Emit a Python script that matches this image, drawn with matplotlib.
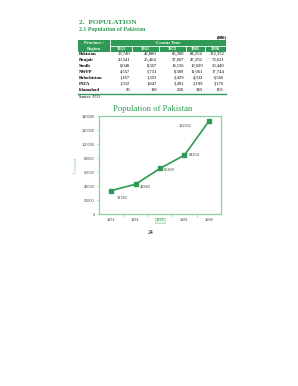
import matplotlib
matplotlib.use("Agg")
from matplotlib import pyplot as plt
from matplotlib.patches import Rectangle

# table data (thousands)
regions = ["Pakistan", "Punjab", "Sindh", "NWFP", "Balochistan", "FATA", "Islamabad"]
years = ["1951", "1961", "1972", "1981", "1998"]
table_values = [
    ["33,740", "42,880", "65,309", "84,254", "132,352"],
    ["20,541", "25,464", "37,607", "47,292", "73,621"],
    ["6,048", "8,367", "14,156", "19,029", "30,440"],
    ["4,557", "5,731", "8,389", "11,061", "17,744"],
    ["1,167", "1,353", "2,429", "4,332", "6,566"],
    ["1,332", "1,847", "2,491", "2,199", "3,176"],
    ["96", "118", "238", "340", "805"],
]
# chart data
population = [33740, 42880, 65309, 84254, 132352]

W, H = 298, 386
green = "#2e9a55"
light_green = "#8ccfa6"
serif = ["Liberation Serif", "DejaVu Serif"]
sans = ["Liberation Sans", "DejaVu Sans"]


def fx(x):
    return x / W


def fy(y):
    return 1 - y / H


fig = plt.figure(figsize=(W / 100, H / 100), dpi=100)
fig.patch.set_facecolor("white")

# headings
fig.text(fx(79), fy(22), "2.  POPULATION", family=serif, fontsize=5.2,
         weight="bold", color=green, va="center")
fig.text(fx(79), fy(30), "2.1 Population of Pakistan", family=serif, fontsize=4.2,
         weight="bold", color=green, va="center")
fig.text(fx(227), fy(37), "(000)", family=serif, fontsize=3.4, weight="bold",
         ha="right", va="center")

# table header
col_edges = [78, 110, 132, 159, 186, 205, 226]
top, mid, bot = 40, 45.5, 52
fig.patches.append(Rectangle((fx(78), fy(bot)), fx(226 - 78), (bot - top) / H,
                             transform=fig.transFigure, facecolor=green,
                             edgecolor="none"))
fig.add_artist(plt.Line2D([fx(110), fx(110)], [fy(top), fy(bot)], color="white", lw=0.6))
fig.add_artist(plt.Line2D([fx(110), fx(226)], [fy(mid), fy(mid)], color="white", lw=0.6))
for e in col_edges[2:-1]:
    fig.add_artist(plt.Line2D([fx(e), fx(e)], [fy(mid), fy(bot)], color="white", lw=0.6))

fig.text(fx(94), fy(42.5), "Province /", family=serif, fontsize=3.3, weight="bold",
         color="white", ha="center", va="center")
fig.text(fx(94), fy(48.8), "Region", family=serif, fontsize=3.3, weight="bold",
         color="white", ha="center", va="center")
fig.text(fx(168), fy(42.8), "Census Year", family=serif, fontsize=3.3, weight="bold",
         color="white", ha="center", va="center")
for i, yr in enumerate(years):
    cx = (col_edges[i + 1] + col_edges[i + 2]) / 2
    fig.text(fx(cx), fy(48.8), yr, family=serif, fontsize=3.3, weight="bold",
             color="white", ha="center", va="center")

# table body
row_y0, row_h = 54.3, 5.9
for r, reg in enumerate(regions):
    y = row_y0 + r * row_h
    fig.text(fx(79), fy(y), reg, family=serif, fontsize=3.3, weight="bold",
             va="center")
    for c, v in enumerate(table_values[r]):
        fig.text(fx(col_edges[c + 2] - 2), fy(y), v, family=serif, fontsize=3.3,
                 ha="right", va="center")
fig.add_artist(plt.Line2D([fx(78), fx(226)], [fy(93.7), fy(93.7)], color=green, lw=1.0))
fig.text(fx(79), fy(97.5), "Source: PCO", family=serif, fontsize=3.0, va="center")

# chart
fig.text(fx(153), fy(109), "Population of Pakistan", family=serif, fontsize=6.2,
         color=green, ha="center", va="center")
ax = fig.add_axes([fx(99), fy(214.3), fx(221 - 99), (214.3 - 116) / H])
xs = list(range(len(years)))
ax.plot(xs, population, color=green, lw=1.2, marker="s", markersize=2.2,
        markeredgecolor=green, markerfacecolor=green)
ax.set_xlim(-0.5, len(years) - 0.5)
ax.set_ylim(0, 140000)
ax.set_yticks(range(0, 140001, 20000))
ax.set_yticklabels([str(v) for v in range(0, 140001, 20000)], family=sans,
                   fontsize=2.8, color="#444444")
ax.set_xticks(xs)
ax.set_xticklabels(years, family=sans, fontsize=2.8, color="#444444")
ax.set_xticks([x + 0.5 for x in xs[:-1]], minor=True)
ax.tick_params(axis="x", which="major", length=0, pad=3)
ax.tick_params(axis="x", which="minor", length=2, color=light_green, width=0.5)
ax.tick_params(axis="y", length=1.5, color=light_green, width=0.5, pad=1.5)
for s in ax.spines.values():
    s.set_color(light_green)
    s.set_linewidth(0.9)
ax.get_xticklabels()[2].set_bbox(dict(facecolor="#e6f4ea", edgecolor=light_green,
                                      linewidth=0.4, pad=0.6))
ax.get_xticklabels()[2].set_color(green)
ax.set_ylabel("Thousand", family=sans, fontsize=2.8, color=light_green, labelpad=3)

offsets = [(4, -5), (3, -2), (3, -1), (3, 0), (-22, -3)]
for x, v, (dx, dy) in zip(xs, population, offsets):
    ax.annotate(str(v), (x, v), xytext=(dx, dy), textcoords="offset points",
                family=sans, fontsize=2.8, color="#444444", va="center")

fig.text(fx(151), fy(232), "24", family=serif, fontsize=4.2, ha="center", va="center")

fig.savefig("out.png", dpi=100, facecolor="white")
